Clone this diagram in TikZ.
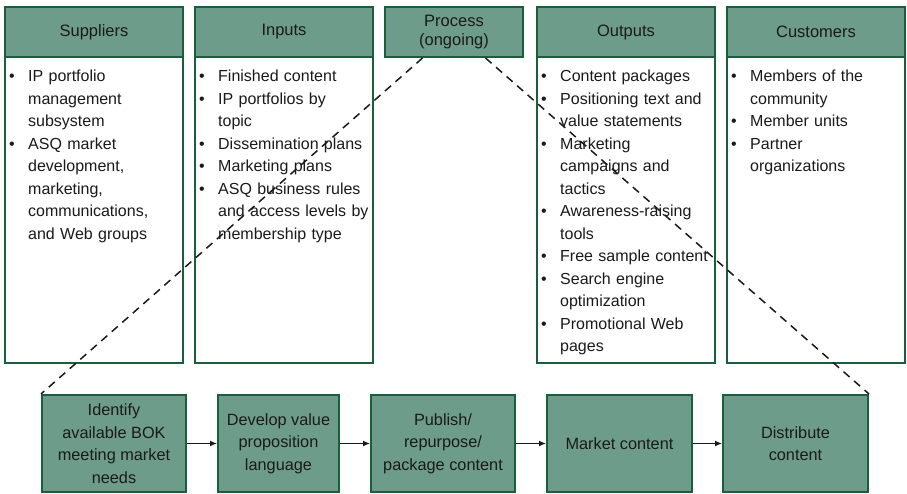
\documentclass[tikz,border=0pt]{standalone}
\usepackage{fontspec}
\setmainfont{Liberation Sans}
\usetikzlibrary{calc,arrows.meta}
\definecolor{boxfill}{HTML}{6E9C8A}
\definecolor{boxline}{HTML}{1B5E3E}
\definecolor{ink}{HTML}{1A1A1A}
\newcommand{\itm}{\par\hangindent=19pt\hangafter=1\noindent\makebox[19pt][l]{\textbullet}}
\newcommand{\nl}{\hfil\break}
\tikzset{
  hdr/.style={draw=boxline, fill=boxfill, line width=2pt, minimum width=178pt, minimum height=50pt, inner sep=0pt, text=ink, font=\fontsize{16.5}{19}\selectfont, align=center},
  bodybox/.style={draw=boxline, fill=white, line width=2pt, minimum width=178pt, minimum height=306pt, inner sep=0pt},
  bodytext/.style={anchor=north west, inner sep=0pt, text width=195pt, align=left, text=ink, font=\fontsize{16}{22.5}\selectfont, execute at begin node={\hyphenpenalty=10000\relax}},
  stepbox/.style={draw=boxline, fill=boxfill, line width=2pt, minimum height=97pt, inner sep=0pt, text=ink, font=\fontsize{16.3}{22.5}\selectfont, align=center},
  flow/.style={-{Latex[length=7pt,width=6pt]}, line width=1.2pt, draw=ink},
  zoomline/.style={draw=ink, line width=1.5pt, dash pattern=on 8pt off 6pt}
}
\begin{document}
\begin{tikzpicture}[x=1pt,y=-1pt]
\useasboundingbox (0,0) rectangle (907,493);
% bodies
\node[bodybox] (supb) at (94,210) {};
\node[bodybox] (inpb) at (284,210) {};
\node[bodybox] (outb) at (626,210) {};
\node[bodybox] (cusb) at (816,210) {};
% headers
\node[hdr] (sup) at (94,32) {Suppliers};
\node[hdr] (inp) at (284,32) {Inputs};
\node[hdr, minimum width=138pt] (proc) at (454,32) {Process\\(ongoing)};
\node[hdr] (out) at (626,32) {Outputs};
\node[hdr] (cus) at (816,32) {Customers};
% body texts
\node[bodytext] (supt) at ($(supb.north west)+(5,3)$) {%
\itm IP portfolio\nl management\nl subsystem
\itm ASQ market\nl development,\nl marketing,\nl communications,\nl and Web groups\par};
\node[bodytext] (inpt) at ($(inpb.north west)+(5,3)$) {%
\itm Finished content
\itm IP portfolios by\nl topic
\itm Dissemination plans
\itm Marketing plans
\itm ASQ business rules\nl and access levels by\nl membership type\par};
\node[bodytext] (outt) at ($(outb.north west)+(5,3)$) {%
\itm Content packages
\itm Positioning text and\nl value statements
\itm Marketing\nl campaigns and\nl tactics
\itm Awareness-raising\nl tools
\itm Free sample content
\itm Search engine\nl optimization
\itm Promotional Web\nl pages\par};
\node[bodytext] (cust) at ($(cusb.north west)+(5,3)$) {%
\itm Members of the\nl community
\itm Member units
\itm Partner\nl organizations\par};
% process steps
\node[stepbox, minimum width=144pt] (s1) at (114,443.5) {Identify\\available BOK\\meeting market\\needs};
\node[stepbox, minimum width=121pt] (s2) at (278.5,443.5) {Develop value\\proposition\\language};
\node[stepbox, minimum width=144pt] (s3) at (443,443.5) {Publish/\\repurpose/\\package content};
\node[stepbox, minimum width=145pt] (s4) at (619.5,443.5) {Market content};
\node[stepbox, minimum width=145pt] (s5) at (795.5,443.5) {Distribute\\content};
\draw[flow] (s1) -- (s2);
\draw[flow] (s2) -- (s3);
\draw[flow] (s3) -- (s4);
\draw[flow] (s4) -- (s5);
% zoom lines
\coordinate (pl) at ($(proc.south west)!0.275!(proc.south east)$);
\coordinate (pr) at ($(proc.south west)!0.725!(proc.south east)$);
\draw[zoomline] (pl) -- (s1.north west);
\draw[zoomline] (pr) -- (s5.north east);
\end{tikzpicture}
\end{document}
